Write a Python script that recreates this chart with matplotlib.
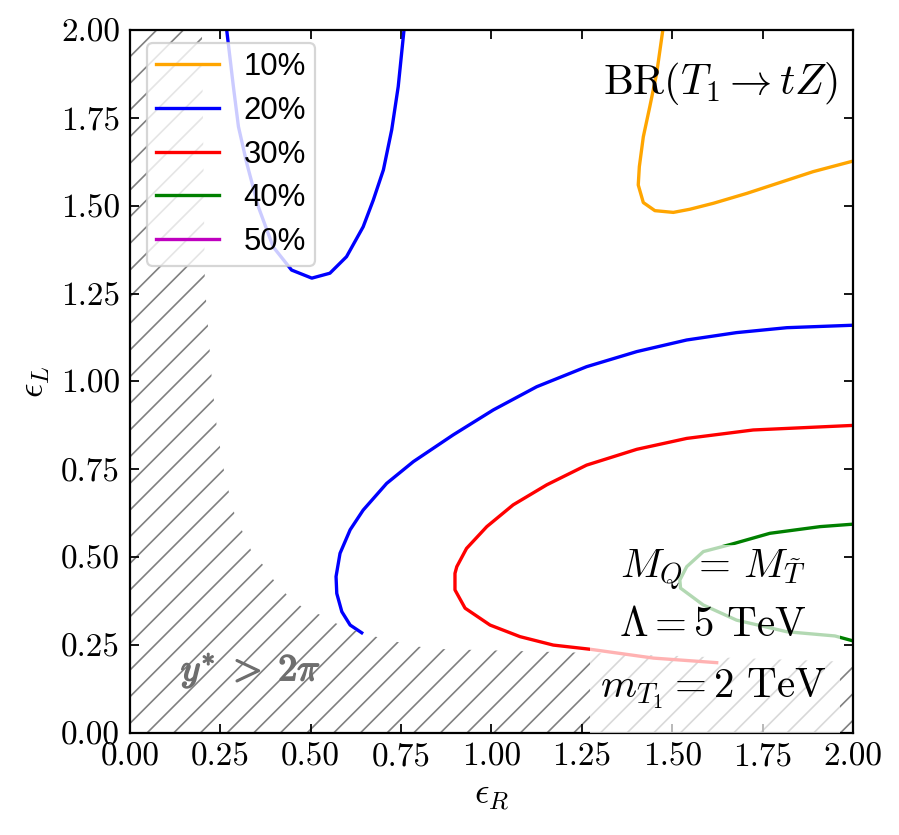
import matplotlib
matplotlib.use('Agg')
import matplotlib.pyplot as plt
from matplotlib.patches import Rectangle
from matplotlib.ticker import MultipleLocator, FormatStrFormatter
import matplotlib.patheffects as pe

plt.rcParams.update({
    'font.family': 'serif',
    'font.serif': ['cmr10'],
    'mathtext.fontset': 'cm',
    'axes.formatter.use_mathtext': True,
    'axes.unicode_minus': False,
    'hatch.linewidth': 0.75,
})

# ---- data ----
levels = ['10%', '20%', '30%', '40%', '50%']
level_colors = ['orange', 'b', 'r', 'g', 'm']

# 10% contour
c10_x = [1.474, 1.457, 1.438, 1.420, 1.409, 1.406, 1.420, 1.452, 1.503, 1.549,
         1.614, 1.706, 1.798, 1.890, 2.000]
c10_y = [2.000, 1.877, 1.782, 1.696, 1.611, 1.559, 1.509, 1.486, 1.481, 1.490,
         1.507, 1.535, 1.566, 1.597, 1.627]

# 20% contour, upper branch
c20a_x = [0.2675, 0.286, 0.300, 0.323, 0.355, 0.396, 0.447, 0.503, 0.553, 0.599,
          0.645, 0.673, 0.701, 0.724, 0.742, 0.758]
c20a_y = [2.000, 1.839, 1.725, 1.621, 1.497, 1.383, 1.317, 1.294, 1.308, 1.355,
          1.440, 1.516, 1.602, 1.716, 1.839, 2.000]

# 20% contour, lower branch
c20b_x = [0.641, 0.609, 0.586, 0.572, 0.570, 0.581, 0.609, 0.645, 0.710, 0.784,
          0.894, 1.005, 1.125, 1.263, 1.402, 1.540, 1.678, 1.817, 2.000]
c20b_y = [0.285, 0.307, 0.345, 0.397, 0.445, 0.511, 0.578, 0.634, 0.710, 0.772,
          0.848, 0.919, 0.985, 1.042, 1.085, 1.118, 1.139, 1.153, 1.160]

# 30% contour
c30_x = [2.000, 1.724, 1.540, 1.402, 1.263, 1.153, 1.060, 0.987, 0.931, 0.904,
         0.899, 0.899, 0.927, 0.996, 1.079, 1.171, 1.274, 1.448, 1.623]
c30_y = [0.875, 0.862, 0.838, 0.807, 0.762, 0.706, 0.649, 0.587, 0.525, 0.473,
         0.454, 0.407, 0.355, 0.307, 0.274, 0.250, 0.238, 0.213, 0.200]

# 40% contour
c40_x = [2.000, 1.909, 1.770, 1.664, 1.586, 1.540, 1.521, 1.523, 1.586, 1.678,
         1.817, 1.950, 2.000]
c40_y = [0.594, 0.587, 0.568, 0.537, 0.516, 0.473, 0.435, 0.412, 0.364, 0.321,
         0.288, 0.276, 0.262]

# boundary of the excluded region y* > 2 pi
excl_x = [0.199, 0.207, 0.227, 0.241, 0.263, 0.290, 0.313, 0.337, 0.368, 0.401,
          0.434, 0.476, 0.526, 0.567, 0.617, 0.683, 0.739, 0.802, 0.849, 1.264, 2.000]
excl_y = [2.000, 1.280, 0.996, 0.862, 0.728, 0.620, 0.569, 0.515, 0.478, 0.430,
          0.393, 0.358, 0.336, 0.313, 0.293, 0.273, 0.259, 0.245, 0.239, 0.228, 0.202]

# ---- figure ----
fig = plt.figure(figsize=(899 / 160, 835 / 160), dpi=160)
ax = fig.add_axes([0.1446, 0.1222, 0.8042, 0.8419])

# hatched exclusion region
poly_x = excl_x + [2.0, 0.0, 0.0]
poly_y = excl_y + [0.0, 0.0, 2.0]
ax.fill(poly_x, poly_y, facecolor='none', edgecolor='gray', hatch='//',
        linewidth=0, zorder=1)

lw = 1.5
ax.plot(c10_x, c10_y, color=level_colors[0], lw=lw, label=levels[0], zorder=2)
ax.plot(c20a_x, c20a_y, color=level_colors[1], lw=lw, label=levels[1], zorder=2)
ax.plot(c20b_x, c20b_y, color=level_colors[1], lw=lw, zorder=2)
ax.plot(c30_x, c30_y, color=level_colors[2], lw=lw, label=levels[2], zorder=2)
ax.plot(c40_x, c40_y, color=level_colors[3], lw=lw, label=levels[3], zorder=2)
ax.plot([], [], color=level_colors[4], lw=lw, label=levels[4])

ax.set_xlim(0, 2)
ax.set_ylim(0, 2)
ax.xaxis.set_major_locator(MultipleLocator(0.25))
ax.yaxis.set_major_locator(MultipleLocator(0.25))
ax.xaxis.set_major_formatter(FormatStrFormatter('%.2f'))
ax.yaxis.set_major_formatter(FormatStrFormatter('%.2f'))
ax.tick_params(direction='in', top=True, right=True, labelsize=15,
               length=4, width=0.8, pad=4.5)
for s in ax.spines.values():
    s.set_linewidth(1.0)

ax.set_xlabel(r'$\epsilon_R$', fontsize=16)
ax.set_ylabel(r'$\epsilon_L$', fontsize=16)

leg = ax.legend(loc='upper left', bbox_to_anchor=(0.0235, 0.9815),
                prop={'family': 'Liberation Sans', 'size': 14},
                labelspacing=0.44, handlelength=2.0, borderaxespad=0.0,
                borderpad=0.3)
for h in leg.get_lines():
    h.set_linewidth(1.5)

# semi-transparent box behind the parameter text
ax.add_patch(Rectangle((0.636, 0.0), 0.346, 0.268, transform=ax.transAxes,
                       facecolor='white', edgecolor='none', alpha=0.7, zorder=3))

ax.text(0.979, 0.957, r'$\mathrm{BR}(T_1\rightarrow tZ)$', transform=ax.transAxes,
        ha='right', va='top', fontsize=19, zorder=4)
ax.text(0.806, 0.2205, r'$M_Q\,=\,M_{\tilde{T}}$', transform=ax.transAxes,
        ha='center', va='baseline', fontsize=18.5, zorder=4)
ax.text(0.806, 0.138, r'$\Lambda = 5\ \mathrm{TeV}$', transform=ax.transAxes,
        ha='center', va='baseline', fontsize=18.5, zorder=4)
ax.text(0.806, 0.0512, r'$m_{T_1} = 2\ \mathrm{TeV}$', transform=ax.transAxes,
        ha='center', va='baseline', fontsize=18.5, zorder=4)

ax.text(0.167, 0.075, r'$y^{*}\;>\;2\pi$', transform=ax.transAxes,
        ha='center', va='baseline', fontsize=17, color='#6e6e6e', zorder=4,
        path_effects=[pe.withStroke(linewidth=0.7, foreground='#6e6e6e')])

fig.savefig('out.png', dpi=160)
